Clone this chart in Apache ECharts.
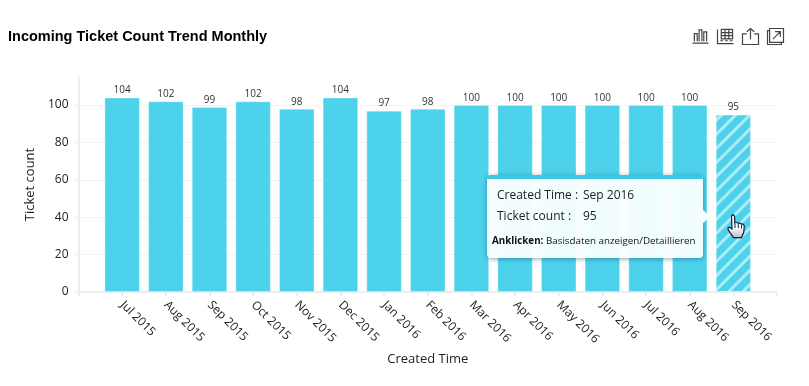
<!DOCTYPE html>
<html><head><meta charset="utf-8">
<style>html,body{margin:0;padding:0;background:#fff}#c{width:809px;height:386px}</style>
<script src="https://cdn.jsdelivr.net/npm/echarts@6/dist/echarts.min.js"></script>
</head><body><div id="c"></div>
<script>
var titleText = 'Incoming Ticket Count Trend Monthly';
var xName = 'Created Time';
var yName = 'Ticket count';
var categories = ['Jul 2015','Aug 2015','Sep 2015','Oct 2015','Nov 2015','Dec 2015','Jan 2016','Feb 2016','Mar 2016','Apr 2016','May 2016','Jun 2016','Jul 2016','Aug 2016','Sep 2016'];
var ticketCounts = [104,102,99,102,98,104,97,98,100,100,100,100,100,100,95];
var highlighted = 'Sep 2016';
var hint = ['Anklicken:','Basisdaten anzeigen/Detaillieren'];
var BAR = '#4dd2ec', FONT = "'Open Sans',sans-serif";

var chart = echarts.init(document.getElementById('c'), null, {renderer:'canvas'});
var cats = [''].concat(categories, ['']);
var seriesData = [null].concat(ticketCounts.map(function(v,i){
  if (categories[i] !== highlighted) return v;
  return {value:v, itemStyle:{decal:{symbol:'rect',symbolSize:1,dashArrayX:[1,0],dashArrayY:[3,6.5],rotation:-Math.PI/4,color:'rgba(255,255,255,0.55)'}}};
}), [null]);

function tip(p){
  var row='position:absolute;white-space:nowrap;line-height:16px;';
  return '<div style="position:relative;width:216px;height:79px;font-family:'+FONT+';color:#222;font-size:12px">'
   +'<div style="'+row+'left:10px;top:8px">'+xName+' :</div><div style="'+row+'left:96px;top:8px">'+p.name+'</div>'
   +'<div style="'+row+'left:10px;top:29px">'+yName+' :</div><div style="'+row+'left:96px;top:29px">'+p.value+'</div>'
   +'<div style="'+row+'left:5px;top:54px;font-size:9.8px;color:#111"><b>'+hint[0]+'</b> '+hint[1]+'</div>'
   +'<div style="position:absolute;right:-5px;top:33px;width:9px;height:9px;background:#f8feff;transform:rotate(45deg)"></div></div>';
}

var handLine = {stroke:'#10203a',lineWidth:1};
chart.setOption({
  animation:false,
  title:{text:titleText,left:8,top:29,padding:0,textStyle:{fontFamily:'"Liberation Sans",Arial,sans-serif',fontSize:14.5,fontWeight:'bold',color:'#000'}},
  toolbox:{right:23,top:26,itemSize:16,itemGap:4,padding:0,
    iconStyle:{color:'none',borderColor:'#444',borderWidth:1.2},
    feature:{
      myBar:{show:true,title:'',icon:'path://M0 16H17M2 14V6H5V14M7 14V2H10V14M12 14V4H15V14',onclick:function(){}},
      myTable:{show:true,title:'',icon:'path://M0 1V16H17M4 1H16V11H4ZM4 4.3H16M4 7.6H16M8 1V11M12 1V11M3 13H6M8 13H11M13 13H16',onclick:function(){}},
      myShare:{show:true,title:'',icon:'path://M5 6H1V16H16V6H12M8.5 11V1M5 4L8.5 1L12 4',onclick:function(){}},
      myOpen:{show:true,title:'',icon:'path://M3 3H1V16H14V14M3 1H16V14H3ZM6 11L13 4M8 4H13V9',onclick:function(){}}
    }},
  grid:{left:78.5,right:32,top:77,bottom:94},
  tooltip:{trigger:'item',alwaysShowContent:true,transitionDuration:0,showDelay:0,hideDelay:0,
    position:[487,175],padding:0,borderWidth:0,backgroundColor:'rgba(248,254,255,0.97)',
    formatter:tip,
    extraCssText:'border-radius:4px;border-top:4px solid #3cc9e6;box-shadow:0 1px 5px rgba(0,60,80,0.45);box-sizing:content-box;'},
  xAxis:{type:'category',data:cats,boundaryGap:false,name:xName,nameLocation:'middle',nameGap:58,
    nameTextStyle:{fontFamily:FONT,fontSize:13,color:'#222'},
    axisLine:{show:true,lineStyle:{color:'#eeeeee',width:2}},
    axisTick:{show:true,length:4,lineStyle:{color:'#eeeeee',width:2},interval:0},
    axisLabel:{interval:0,rotate:-45,fontFamily:FONT,fontSize:12,color:'#222',margin:11},
    splitLine:{show:false}},
  yAxis:{type:'value',min:0,max:115,interval:20,name:yName,nameLocation:'middle',nameGap:36,
    nameTextStyle:{fontFamily:FONT,fontSize:13,color:'#222'},
    axisLine:{show:true,lineStyle:{color:'#eeeeee',width:2}},
    axisTick:{show:true,length:4,lineStyle:{color:'#eeeeee'}},
    axisLabel:{fontFamily:FONT,fontSize:12,color:'#222',margin:10,padding:[3,0,0,0],showMaxLabel:false},
    splitLine:{show:true,showMaxLine:false,lineStyle:{color:'#f2f2f2',width:1}}},
  series:[{type:'bar',data:seriesData,barWidth:35.5,
    itemStyle:{color:BAR,borderColor:'rgba(255,255,255,0.3)',borderWidth:1},
    label:{show:true,position:'top',distance:2,fontFamily:FONT,fontSize:10,color:'#333'},
    emphasis:{disabled:true}}],
  graphic:[{type:'group',x:727,y:214,silent:true,children:[
    {type:'polygon',z:100,shape:{points:[[4.5,2],[6,0.5],[7.5,2],[7.8,9],[9.5,8.3],[11.3,9.4],[12.8,8.9],[14.5,10.2],[15.7,10],[17.3,11.7],[16.8,18],[14.5,23.6],[6.5,23.6],[1,15.5],[1.4,13.2],[3.2,13.6],[5,15]]},
      style:{stroke:'#10203a',lineWidth:1.2,fill:new echarts.graphic.LinearGradient(0,0,0,1,[{offset:0,color:'#ffffff'},{offset:0.55,color:'#ffffff'},{offset:1,color:'#b8b8b8'}])}},
    {type:'line',z:101,shape:{x1:8,y1:10,x2:8,y2:14},style:handLine},
    {type:'line',z:101,shape:{x1:11.3,y1:10,x2:11.3,y2:14},style:handLine},
    {type:'line',z:101,shape:{x1:14.5,y1:11,x2:14.5,y2:14.5},style:handLine}
  ]}]
});
chart.dispatchAction({type:'showTip',seriesIndex:0,dataIndex:15});
</script></body></html>
